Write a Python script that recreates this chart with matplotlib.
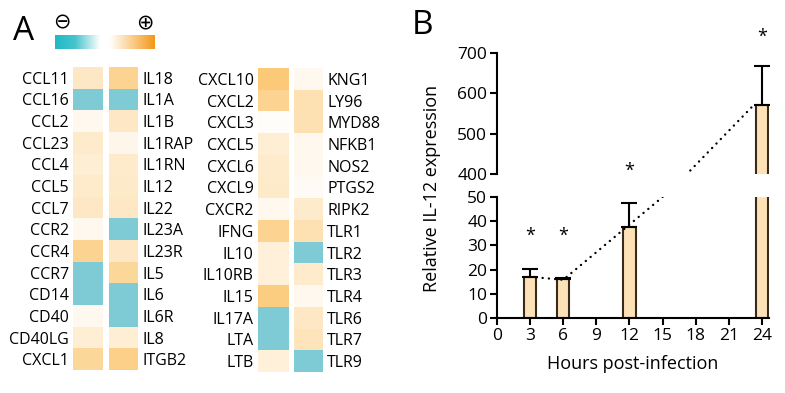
#Heatmap of cytokine / receptor genes (panel A) and IL-12 time course (panel B)

#load and import libraries
import numpy as np
import matplotlib
matplotlib.use('Agg')
import matplotlib.pyplot as plt
from matplotlib.colors import LinearSegmentedColormap

plt.rcParams['font.family'] = ['Open Sans', 'DejaVu Sans']

#Panel A data: gene names and relative change (-1 = down / teal, +1 = up / orange)
genes_1 = ['CCL11', 'CCL16', 'CCL2', 'CCL23', 'CCL4', 'CCL5', 'CCL7', 'CCR2', 'CCR4', 'CCR7', 'CD14', 'CD40', 'CD40LG', 'CXCL1']
vals_1 = [0.35, -1, 0.1, 0.3, 0.25, 0.3, 0.35, 0.1, 0.65, -1, -1, 0.1, 0.25, 0.6]
genes_2 = ['IL18', 'IL1A', 'IL1B', 'IL1RAP', 'IL1RN', 'IL12', 'IL22', 'IL23A', 'IL23R', 'IL5', 'IL6', 'IL6R', 'IL8', 'ITGB2']
vals_2 = [0.65, -1, 0.35, 0.12, 0.3, 0.32, 0.35, -1, 0.35, 0.6, -1, -1, 0.25, 0.7]
genes_3 = ['CXCL10', 'CXCL2', 'CXCL3', 'CXCL5', 'CXCL6', 'CXCL9', 'CXCR2', 'IFNG', 'IL10', 'IL10RB', 'IL15', 'IL17A', 'LTA', 'LTB']
vals_3 = [0.8, 0.65, 0.03, 0.25, 0.3, 0.32, 0.1, 0.65, 0.22, 0.22, 0.75, -1, -1, 0.22]
genes_4 = ['KNG1', 'LY96', 'MYD88', 'NFKB1', 'NOS2', 'PTGS2', 'RIPK2', 'TLR1', 'TLR2', 'TLR3', 'TLR4', 'TLR6', 'TLR7', 'TLR9']
vals_4 = [0.1, 0.45, 0.45, 0.1, 0.1, 0.05, 0.3, 0.45, -1, 0.3, 0.1, 0.35, 0.4, -1]

#Panel B data: relative IL-12 expression (mean and upper error)
hours = [3, 6, 12, 24]
il12_mean = [17, 16, 37.5, 572]
il12_err = [3.3, 0.4, 10, 96]
star_y = [34, 34, 407, 740]  # where the * marks sit
#dotted trend line
trend_h = [3, 6, 15, 17.2, 23.4]
trend_v = [17, 15.8, 50, 400, 575]
xticks = [0, 3, 6, 9, 12, 15, 18, 21, 24]

W, H = 785, 393
fig = plt.figure(figsize=(W / 100, H / 100), dpi=100)

def box(x0, y0, x1, y1):
    # pixel box (top-left origin) -> figure fraction
    return [x0 / W, 1 - y1 / H, (x1 - x0) / W, (y1 - y0) / H]

#colour maps
cells = LinearSegmentedColormap.from_list('cells', ['#7ECBD6', '#FFFFFF', '#FBBD58'])
bar_cmap = LinearSegmentedColormap.from_list(
    'bar', [(0, '#1FB9C5'), (0.2, '#47C4CD'), (0.45, '#FFFFFF'), (0.55, '#FFFFFF'),
            (0.8, '#FAC77E'), (1, '#F4971A')])

#----- Panel A -----
columns = [(genes_1, vals_1, (73, 67, 103, 370), 'left'),
           (genes_2, vals_2, (109, 67, 138, 370), 'right'),
           (genes_3, vals_3, (258, 68, 289, 372), 'left'),
           (genes_4, vals_4, (294, 68, 323, 372), 'right')]
for names, vals, b, side in columns:
    ax = fig.add_axes(box(*b))
    ax.imshow(np.array(vals).reshape(-1, 1), cmap=cells, vmin=-1, vmax=1, aspect='auto')
    ax.set_xticks([])
    ax.set_yticks(range(len(names)))
    ax.set_yticklabels(names, fontsize=11.5)
    if side == 'right':
        ax.yaxis.tick_right()
    ax.tick_params(axis='y', length=0, pad=3)
    for s in ax.spines.values():
        s.set_visible(False)

#colour bar
cax = fig.add_axes(box(55, 35, 155, 49))
cax.imshow(np.linspace(0, 1, 256).reshape(1, -1), cmap=bar_cmap, aspect='auto')
cax.axis('off')
fig.text(62 / W, 1 - 22 / H, '\u2296', fontsize=15, ha='center', va='center', family=['DejaVu Sans'])
fig.text(145 / W, 1 - 22 / H, '\u2295', fontsize=15, ha='center', va='center', family=['DejaVu Sans'])
fig.text(13 / W, 1 - 31 / H, 'A', fontsize=24, ha='left', va='center')

#----- Panel B (broken y axis) -----
x_right = 497 + 24.6 * 11.04
top = fig.add_axes(box(497, 53, x_right, 174))
low = fig.add_axes(box(497, 197, x_right, 318))

for ax in (top, low):
    ax.bar(hours, il12_mean, width=1.1, color='#FDE2B8', edgecolor='#3A2A1A', linewidth=1.5, zorder=2)
    ax.errorbar(hours, il12_mean, yerr=[[0] * 4, il12_err], fmt='none', ecolor='black',
                elinewidth=1.5, capsize=5.5, capthick=1.5, zorder=3)
    ax.plot(trend_h, trend_v, color='black', linewidth=1.7, linestyle=(0, (0.05, 2.6)),
            dash_capstyle='round', zorder=4)
    ax.set_xlim(0, 24.6)
    for s in ['top', 'right']:
        ax.spines[s].set_visible(False)
    ax.spines['left'].set_linewidth(1.5)
    ax.spines['bottom'].set_linewidth(1.5)
    ax.tick_params(width=1.5, length=5, labelsize=12.5, pad=2)

top.set_ylim(400, 700)
top.set_yticks([400, 500, 600, 700])
top.spines['bottom'].set_visible(False)
top.set_xticks([])
low.set_ylim(0, 50)
low.set_yticks([0, 10, 20, 30, 40, 50])
low.set_xticks(xticks)
low.set_xlabel('Hours post-infection', fontsize=13, labelpad=8)

#significance marks
for h, y in zip(hours, star_y):
    target = low if y < 50 else top
    target.text(h, y, '*', fontsize=13, ha='center', va='center', clip_on=False)

fig.text(432 / W, 1 - 188 / H, 'Relative IL-12 expression', fontsize=13, rotation=90,
         ha='center', va='center')
fig.text(412 / W, 1 - 25 / H, 'B', fontsize=24, ha='left', va='center')

plt.savefig('out.png', dpi=100)
